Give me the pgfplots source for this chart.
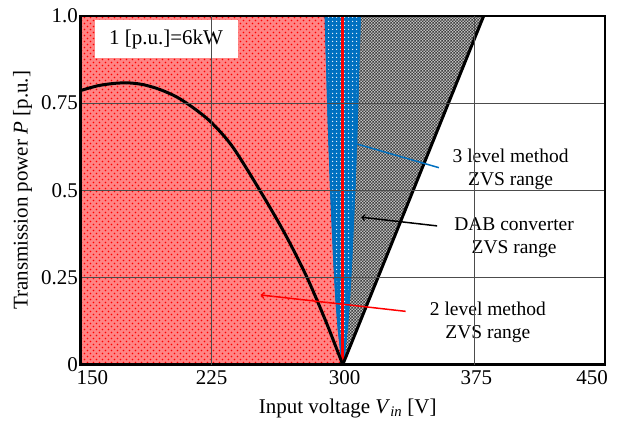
\documentclass[border=0pt]{standalone}
\usepackage{pgfplots}
\pgfplotsset{compat=1.18}
\usepackage{fontspec}
\setmainfont{Liberation Serif}
\usetikzlibrary{patterns}

\definecolor{zvsred}{RGB}{255,132,132}
\definecolor{zvsblue}{RGB}{0,112,192}
\newcommand{\tickfont}{\fontsize{21bp}{24bp}\selectfont}
\newcommand{\notefont}{\fontsize{19.5bp}{23bp}\selectfont}

% small fill patterns, close to the picture's pixel size
\pgfdeclarepatternformonly{reddots}{\pgfpoint{0bp}{0bp}}{\pgfpoint{6bp}{6bp}}{\pgfpoint{6bp}{6bp}}{%
  \pgfpathcircle{\pgfpoint{1.5bp}{1.5bp}}{0.85bp}%
  \pgfpathcircle{\pgfpoint{4.5bp}{4.5bp}}{0.85bp}%
  \pgfusepath{fill}}
\pgfdeclarepatternformonly{finechecker}{\pgfpoint{0bp}{0bp}}{\pgfpoint{3bp}{3bp}}{\pgfpoint{3bp}{3bp}}{%
  \pgfpathrectangle{\pgfpoint{0bp}{0bp}}{\pgfpoint{1.5bp}{1.5bp}}%
  \pgfpathrectangle{\pgfpoint{1.5bp}{1.5bp}}{\pgfpoint{1.5bp}{1.5bp}}%
  \pgfusepath{fill}}
\pgfdeclarepatternformonly{whitedots}{\pgfpoint{0bp}{0bp}}{\pgfpoint{3.6bp}{3.6bp}}{\pgfpoint{3.6bp}{3.6bp}}{%
  \pgfpathcircle{\pgfpoint{1.8bp}{1.8bp}}{0.8bp}%
  \pgfusepath{fill}}

\begin{document}
\begin{tikzpicture}
\begin{axis}[
    name=ax,
    scale only axis,
    width=525bp, height=349bp,
    xmin=150, xmax=450, ymin=0, ymax=1,
    xtick={150,225,300,375,450},
    xticklabels={\hspace*{24bp}150,225,\hspace*{4bp}300,\hspace*{5bp}375,450\hspace*{26bp}},
    ytick={0,0.25,0.5,0.75,1},
    yticklabels={0,0.25,0.5,0.75,1.0},
    /pgf/number format/assume math mode=true,
    major tick length=0pt,
    xmajorgrids=false, ymajorgrids=true,
    extra x ticks={225,375},
    extra x tick labels={},
    extra x tick style={xmajorgrids=true},
    major grid style={black!70, line width=0.7bp},
    axis line style={line width=2.5bp},
    axis on top,
    tick label style={font=\tickfont},
    xticklabel style={yshift=-2bp},
    yticklabel style={xshift=1bp},
    xlabel={Input voltage \textit{V}\textsubscript{\textit{in}} [V]},
    ylabel={Transmission power \textit{P} [p.u.]},
    every axis x label/.style={at={(axis description cs:0.5,0)}, anchor=center,
        xshift=5bp, yshift=-44bp, font=\tickfont},
    every axis y label/.style={at={(axis description cs:0,0.5)}, anchor=center,
        xshift=-58bp, rotate=90, font=\tickfont},
]
% 2 level method region
\addplot[draw=none, fill=zvsred, postaction={pattern=reddots, pattern color=red}]
    coordinates {(150,0) (300,0) (290.3,1) (150,1)};
% DAB converter region
\addplot[draw=none, fill=white!75!black, postaction={pattern=finechecker, pattern color=black!75}]
    coordinates {(300,0) (380.6,1) (309.7,1)};
% 3 level method region
\addplot[draw=zvsblue, line width=2.2bp, fill=zvsblue, postaction={pattern=whitedots, pattern color=white}]
    coordinates {(300,0) (297.8,0.1) (296.4,0.19) (295.2,0.3) (293.4,0.5) (292,0.7) (290.3,1)
                 (309.7,1) (308,0.7) (306.6,0.5) (304.8,0.3) (303.6,0.19) (302.2,0.1) (300,0)};
% boundaries
\addplot[red, line width=2.8bp] coordinates {(300,0) (300,1)};
\addplot[black, line width=3bp] coordinates {(300,0) (380.6,1)};
\addplot[black, line width=3bp, smooth] coordinates {
    (150,0.786) (160,0.800) (170,0.807) (178,0.808) (186,0.803) (195,0.790)
    (205,0.768) (215,0.735) (225,0.694) (237,0.625) (252.6,0.50) (267,0.375)
    (279.6,0.25) (290.7,0.12) (300,0)};

% annotations
\node[fill=white, minimum width=143bp, minimum height=38bp, font=\tickfont]
    at (axis cs:199,0.934) {1 [p.u.]=6kW};
\draw[->, zvsblue, line width=1.5bp] (axis cs:355,0.565) -- (axis cs:306,0.636);
\node[fill=white, align=center, inner sep=1bp, font=\notefont]
    at (axis cs:396,0.559) {3 level method\\ZVS range};
\draw[->, black, line width=1.5bp] (axis cs:354,0.398) -- (axis cs:310.6,0.423);
\node[fill=white, align=center, inner sep=1bp, font=\notefont]
    at (axis cs:398,0.364) {DAB converter\\ZVS range};
\draw[->, red, line width=1.5bp] (axis cs:336,0.153) -- (axis cs:253,0.20);
\node[fill=white, align=center, inner sep=1bp, font=\notefont]
    at (axis cs:383,0.122) {2 level method\\ZVS range};
\end{axis}
\pgfresetboundingbox
\path ([shift={(-80.5bp,-56bp)}]ax.south west) rectangle ([shift={(13bp,16bp)}]ax.north east);
\end{tikzpicture}
\end{document}
